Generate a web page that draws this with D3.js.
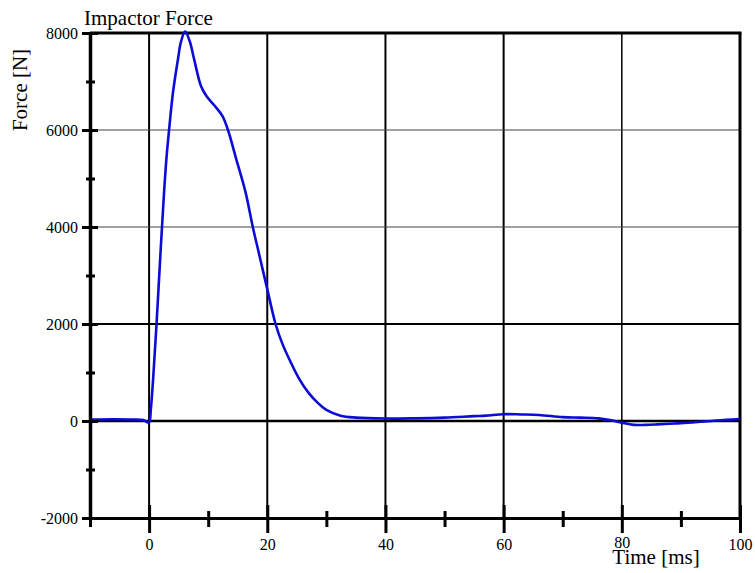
<!DOCTYPE html>
<html>
<head>
<meta charset="utf-8">
<script src="https://cdn.jsdelivr.net/npm/d3@7"></script>
<style>
  html, body { margin: 0; padding: 0; background: #fff; }
  svg { display: block; }
  text { font-family: "Liberation Serif", "Times New Roman", serif; fill: #000; }
</style>
</head>
<body>
<svg id="chart" width="755" height="573"></svg>
<script>
// ---- data ----
const timeMs = [-10, -6, -3, -1, -0.4, 0, 0.3, 0.7, 1.25, 1.9, 2.5, 2.94, 3.38, 4.05, 4.9, 5.4, 6.1, 6.9, 7.6, 8.8, 9.7, 11.1, 12.4, 13.35, 14.75, 16.3, 17.55, 18.6, 20, 21.4, 22.6, 23.9, 25.4, 27, 28.5, 30, 32.4, 35, 40, 45, 50, 55, 57, 60, 63, 66, 70, 73, 76, 78, 80, 82, 84, 86, 89, 92, 96, 100];
const forceN = [30, 35, 30, 20, -20, -30, 250, 900, 1980, 3400, 4650, 5420, 6000, 6780, 7470, 7820, 8030, 7820, 7470, 6900, 6700, 6500, 6290, 6000, 5400, 4730, 4000, 3450, 2720, 2000, 1580, 1230, 870, 580, 380, 230, 110, 70, 50, 55, 70, 100, 110, 140, 135, 125, 80, 70, 55, 20, -35, -80, -80, -70, -50, -30, 10, 40];
const xMajorTicks = [0, 20, 40, 60, 80, 100];
const xMinorTicks = [-10, 10, 30, 50, 70, 90];
const yMajorTicks = [-2000, 0, 2000, 4000, 6000, 8000];
const yMinorTicks = [-1000, 1000, 3000, 5000, 7000];
const titleText = "Impactor Force";
const xLabel = "Time [ms]";
const yLabel = "Force [N]";

// ---- layout ----
const svg = d3.select("#chart");
const pL = 90, pR = 740, pT = 33, pB = 518;
const x = d3.scaleLinear().domain([-10, 100]).range([pL, pR]);
const y = d3.scaleLinear().domain([-2000, 8000]).range([pB, pT]);
const fmt = d => String(d);

// grid: vertical
const gridV = [0, 20, 40, 60, 80];
svg.append("g").selectAll("line").data(gridV).join("line")
  .attr("x1", d => x(d)).attr("x2", d => x(d))
  .attr("y1", pT).attr("y2", pB)
  .attr("stroke", "#000").attr("stroke-width", d => d === 80 ? 1.5 : 2);

// grid: horizontal
const gridH = [0, 2000, 4000, 6000];
svg.append("g").selectAll("line").data(gridH).join("line")
  .attr("x1", pL).attr("x2", pR)
  .attr("y1", d => y(d)).attr("y2", d => y(d))
  .attr("stroke", d => d <= 2000 ? "#000" : "#444")
  .attr("stroke-width", d => d === 0 ? 2.5 : (d === 2000 ? 2 : 1.2));

// frame top/right
svg.append("line").attr("x1", pL).attr("x2", pR + 1.5).attr("y1", pT).attr("y2", pT)
  .attr("stroke", "#000").attr("stroke-width", 3);
svg.append("line").attr("x1", pR).attr("x2", pR).attr("y1", pT).attr("y2", pB)
  .attr("stroke", "#000").attr("stroke-width", 3);

// data line
const line = d3.line().x((d, i) => x(timeMs[i])).y(d => y(d)).curve(d3.curveCatmullRom.alpha(0.5));
svg.append("path").datum(forceN)
  .attr("d", line)
  .attr("fill", "none")
  .attr("stroke", "#0c0cd6")
  .attr("stroke-width", 2.6)
  .attr("stroke-linejoin", "round");

// x axis
const xAxis = svg.append("g").attr("transform", `translate(0,${pB})`)
  .call(d3.axisBottom(x).tickValues(xMajorTicks).tickSize(0).tickPadding(0).tickFormat(fmt));
xAxis.select(".domain").attr("stroke", "#000").attr("stroke-width", 3);
xAxis.selectAll(".tick line").attr("y1", -13).attr("y2", 15).attr("stroke", "#000").attr("stroke-width", 3);
xAxis.selectAll(".tick text").attr("y", d => d === 80 ? 30 : 32).attr("dy", 0)
  .style("font-family", "Liberation Serif, serif").style("font-size", "16px");
const xMinor = svg.append("g").attr("transform", `translate(0,${pB})`)
  .call(d3.axisBottom(x).tickValues(xMinorTicks).tickSize(0).tickFormat(""));
xMinor.select(".domain").remove();
xMinor.selectAll(".tick line").attr("y1", -7).attr("y2", 9).attr("stroke", "#000").attr("stroke-width", 3);

// y axis
const yAxis = svg.append("g").attr("transform", `translate(${pL},0)`)
  .call(d3.axisLeft(y).tickValues(yMajorTicks).tickSize(0).tickPadding(0).tickFormat(fmt));
yAxis.select(".domain").attr("stroke", "#000").attr("stroke-width", 3.5);
yAxis.selectAll(".tick line").attr("x1", -8).attr("x2", 8).attr("stroke", "#000").attr("stroke-width", 3);
yAxis.selectAll(".tick text").attr("x", -12).attr("dy", "0.35em")
  .style("font-family", "Liberation Serif, serif").style("font-size", "16px");
const yMinor = svg.append("g").attr("transform", `translate(${pL},0)`)
  .call(d3.axisLeft(y).tickValues(yMinorTicks).tickSize(0).tickFormat(""));
yMinor.select(".domain").remove();
yMinor.selectAll(".tick line").attr("x1", -4).attr("x2", 5).attr("stroke", "#000").attr("stroke-width", 3);

// titles
svg.append("text").attr("x", 84).attr("y", 25).style("font-size", "21px").text(titleText);
svg.append("text").attr("x", 656).attr("y", 564).attr("text-anchor", "middle").style("font-size", "21px").text(xLabel);
svg.append("text").attr("transform", "translate(27,90) rotate(-90)").attr("text-anchor", "middle")
  .style("font-size", "21px").text(yLabel);
</script>
</body>
</html>
